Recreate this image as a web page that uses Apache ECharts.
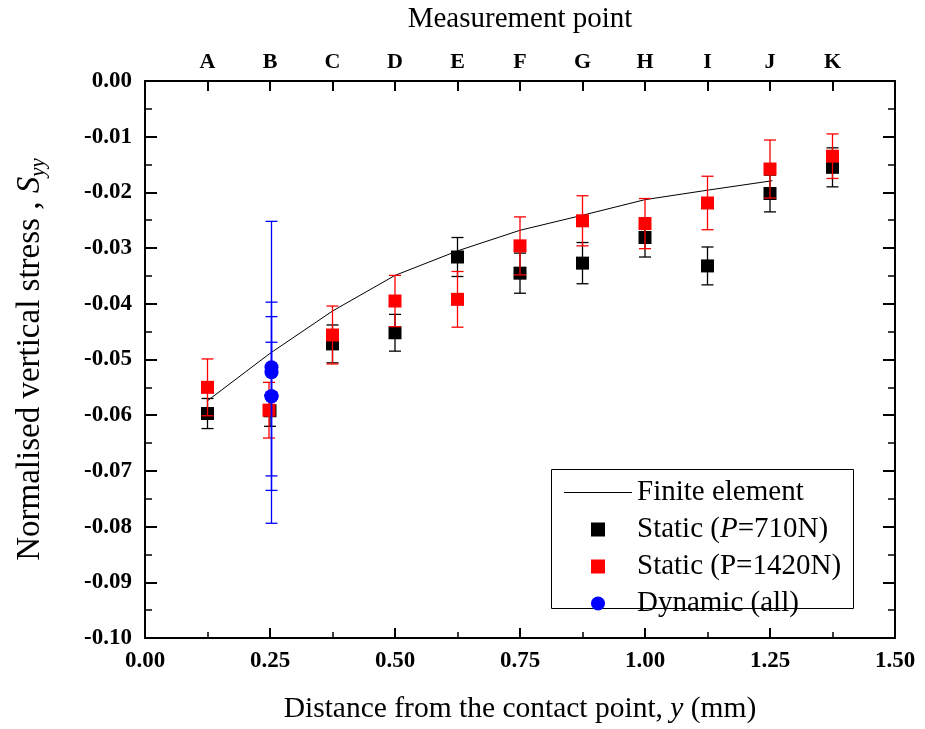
<!DOCTYPE html>
<html>
<head>
<meta charset="utf-8">
<script src="https://cdn.jsdelivr.net/npm/echarts@6/dist/echarts.min.js"></script>
<style>html,body{margin:0;padding:0;background:#fff}#c{width:925px;height:729px}</style>
</head>
<body>
<div id="c"></div>
<script>
// Measurement point letters (top axis)
const pointLetters = ['A','B','C','D','E','F','G','H','I','J','K'];
// Finite element curve
const feX = [0.125, 0.25, 0.375, 0.5, 0.625, 0.75, 0.875, 1.0, 1.125, 1.255];
const feY = [-0.0574, -0.0489, -0.0413, -0.0349, -0.0305, -0.0268, -0.0241, -0.0213, -0.0196, -0.0179];
// Static P=710N
const s710X = [0.125, 0.25, 0.375, 0.5, 0.625, 0.75, 0.875, 1.0, 1.125, 1.25, 1.375];
const s710Y = [-0.0597, -0.0592, -0.0472, -0.0452, -0.0316, -0.0345, -0.0327, -0.0281, -0.0332, -0.0202, -0.0155];
const s710E = [0.0027, 0.0028, 0.0034, 0.0033, 0.0035, 0.0036, 0.0037, 0.0035, 0.0034, 0.0033, 0.0035];
// Static P=1420N
const s1420X = [0.125, 0.248, 0.375, 0.5, 0.625, 0.75, 0.875, 1.0, 1.125, 1.25, 1.375];
const s1420Y = [-0.0550, -0.0591, -0.0456, -0.0395, -0.0392, -0.0296, -0.0251, -0.0256, -0.0219, -0.0158, -0.0135];
const s1420E = [0.0051, 0.0050, 0.0052, 0.0046, 0.0050, 0.0052, 0.0045, 0.0045, 0.0048, 0.0052, 0.0040];
// Dynamic (all)
const dynX = [0.253, 0.253, 0.253, 0.253];
const dynY = [-0.0514, -0.0523, -0.0566, -0.0566];
const dynE = [0.0045, 0.0271, 0.0169, 0.0143];

const SERIF = 'Liberation Serif';

function errSeries(name, xs, ys, es, color, z) {
  return {
    type: 'custom', name: name, z: z, silent: true,
    xAxisIndex: 0, yAxisIndex: 0,
    data: xs.map((x, i) => [x, ys[i] - es[i], ys[i] + es[i]]),
    encode: { x: 0, y: [1, 2] },
    renderItem: function (params, api) {
      const x = api.value(0);
      const lo = api.coord([x, api.value(1)]);
      const hi = api.coord([x, api.value(2)]);
      const hw = 6;
      const st = { stroke: color, lineWidth: 1.3 };
      return {
        type: 'group',
        children: [
          { type: 'line', shape: { x1: lo[0], y1: lo[1], x2: hi[0], y2: hi[1] }, style: st },
          { type: 'line', shape: { x1: lo[0] - hw, y1: lo[1], x2: lo[0] + hw, y2: lo[1] }, style: st },
          { type: 'line', shape: { x1: hi[0] - hw, y1: hi[1], x2: hi[0] + hw, y2: hi[1] }, style: st }
        ]
      };
    }
  };
}

const zip = (xs, ys) => xs.map((x, i) => [x, ys[i]]);
const squarePath = 'path://M0,0h10v10h-10z';
const linePath = 'path://M0,0h68v1.2h-68z';
const axisLineStyle = { show: true, onZero: false, lineStyle: { color: '#000', width: 2 } };

const chart = echarts.init(document.getElementById('c'), null, { renderer: 'canvas' });
const option = {
  animation: false,
  backgroundColor: '#fff',
  grid: { left: 145, right: 30, top: 81, bottom: 89, containLabel: false },
  graphic: [
    { type: 'rect', z: 50, left: 551, top: 469,
      shape: { width: 302, height: 139 },
      style: { fill: '#fff', stroke: '#000', lineWidth: 1 } }
  ],
  xAxis: [
    {
      type: 'value', position: 'bottom', min: 0, max: 1.5, interval: 0.25,
      name: '{n|Distance from the contact point, }{i|y}{n| (mm)}',
      nameLocation: 'middle', nameGap: 56,
      nameTextStyle: { rich: {
        n: { fontFamily: SERIF, fontSize: 29.5, color: '#000' },
        i: { fontFamily: SERIF, fontSize: 29.5, fontStyle: 'italic', color: '#000' }
      } },
      axisLine: axisLineStyle,
      axisTick: { show: true, inside: true, length: 10, lineStyle: { color: '#000', width: 2 } },
      minorTick: { show: true, splitNumber: 2, length: 6, lineStyle: { color: '#000', width: 1.5 } },
      splitLine: { show: false },
      axisLabel: { margin: 12, fontFamily: SERIF, fontWeight: 'bold', fontSize: 23, color: '#000',
        formatter: v => v.toFixed(2) }
    },
    {
      type: 'value', position: 'top', min: 0, max: 1.5, interval: 0.125,
      name: 'Measurement point', nameLocation: 'middle', nameGap: 47,
      nameTextStyle: { fontFamily: SERIF, fontSize: 29, color: '#000' },
      axisLine: axisLineStyle,
      axisTick: { show: true, inside: true, length: 10, lineStyle: { color: '#000', width: 2 } },
      splitLine: { show: false },
      axisLabel: { margin: 8, fontFamily: SERIF, fontWeight: 'bold', fontSize: 22, color: '#000',
        formatter: v => { const i = Math.round(v / 0.125) - 1; return pointLetters[i] || ''; } }
    }
  ],
  yAxis: [
    {
      type: 'value', position: 'left', min: -0.1, max: 0, interval: 0.01,
      name: '{n|Normalised vertical stress , }{s|S}{sub|yy}',
      nameLocation: 'middle', nameGap: 96,
      nameTextStyle: { rich: {
        n: { fontFamily: SERIF, fontSize: 33, color: '#000' },
        s: { fontFamily: SERIF, fontSize: 33, fontStyle: 'italic', color: '#000' },
        sub: { fontFamily: SERIF, fontSize: 21, fontStyle: 'italic', color: '#000', padding: [16, 0, 0, 0] }
      } },
      axisLine: axisLineStyle,
      axisTick: { show: true, inside: true, length: 12, lineStyle: { color: '#000', width: 2 } },
      minorTick: { show: true, splitNumber: 2, length: 7, lineStyle: { color: '#000', width: 1.5 } },
      splitLine: { show: false },
      axisLabel: { margin: 13, fontFamily: SERIF, fontWeight: 'bold', fontSize: 23, color: '#000',
        formatter: v => v.toFixed(2) }
    },
    {
      type: 'value', position: 'right', min: -0.1, max: 0, interval: 0.01,
      axisLine: axisLineStyle,
      axisTick: { show: true, inside: true, length: 12, lineStyle: { color: '#000', width: 2 } },
      minorTick: { show: true, splitNumber: 2, length: 7, lineStyle: { color: '#000', width: 1.5 } },
      splitLine: { show: false },
      axisLabel: { show: false }
    }
  ],
  legend: {
    z: 60,
    orient: 'vertical', left: 551, top: 469,
    padding: [9, 8, 0, 13],
    itemWidth: 68, itemHeight: 14, itemGap: 8,
    data: [
      { name: 'Finite element', icon: linePath },
      { name: 'Static (P=710N)', icon: squarePath },
      { name: 'Static (P=1420N)', icon: squarePath },
      { name: 'Dynamic (all)', icon: 'circle' }
    ],
    formatter: function (name) {
      if (name === 'Static (P=710N)') return '{n|Static (}{i|P}{n|=710N)}';
      return '{n|' + name + '}';
    },
    textStyle: { fontFamily: SERIF, fontSize: 29, color: '#000', rich: {
      n: { fontFamily: SERIF, fontSize: 29, color: '#000' },
      i: { fontFamily: SERIF, fontSize: 29, fontStyle: 'italic', color: '#000' }
    } }
  },
  series: [
    {
      name: 'Finite element', type: 'line', z: 1, symbol: 'none', smooth: false,
      data: zip(feX, feY), lineStyle: { color: '#000', width: 1 }, itemStyle: { color: '#000' }
    },
    errSeries('err710', s710X, s710Y, s710E, '#000', 2),
    {
      name: 'Static (P=710N)', type: 'scatter', z: 3, symbol: 'rect', symbolSize: 13,
      data: zip(s710X, s710Y), itemStyle: { color: '#000', opacity: 1 }
    },
    errSeries('err1420', s1420X, s1420Y, s1420E, '#ff0000', 4),
    {
      name: 'Static (P=1420N)', type: 'scatter', z: 5, symbol: 'rect', symbolSize: 13,
      data: zip(s1420X, s1420Y), itemStyle: { color: '#ff0000', opacity: 1 }
    },
    errSeries('errDyn', dynX, dynY, dynE, '#0000ff', 6),
    {
      name: 'Dynamic (all)', type: 'scatter', z: 7, symbol: 'circle', symbolSize: 14,
      data: zip(dynX, dynY), itemStyle: { color: '#0000ff', opacity: 1 }
    }
  ]
};
chart.setOption(option);
</script>
</body>
</html>
